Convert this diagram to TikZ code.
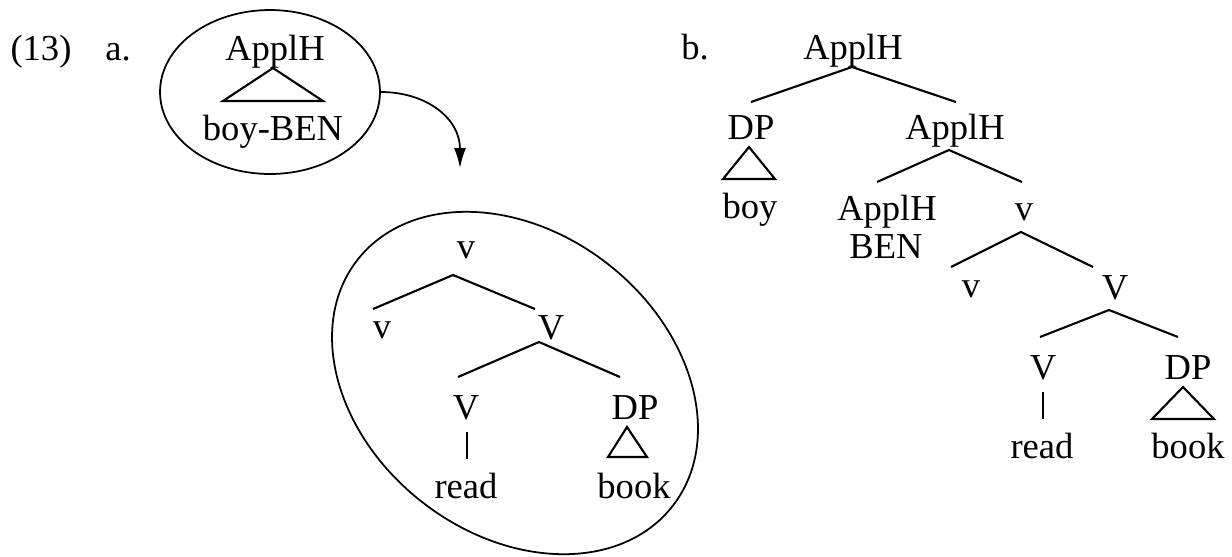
\documentclass[tikz,border=0pt]{standalone}
\usepackage{fontspec}
\setmainfont{Liberation Serif}
\usetikzlibrary{shapes.geometric,arrows.meta,calc}
\tikzset{
  lbl/.style={anchor=base, inner sep=0pt},
  br/.style={line width=1.2pt},
  ring/.style={draw, ellipse, line width=1pt, inner sep=0pt},
}
\begin{document}
\begin{tikzpicture}[x=0.02cm, y=-0.02cm, font=\fontsize{20.8pt}{25pt}\selectfont]
\useasboundingbox (0,0) rectangle (1232,556);
\node[lbl] (ex) at (41,60) {(13)};
\node[lbl] (a) at (118,60) {a.};
\node[lbl] (b) at (695,59) {b.};

\node[ring, minimum width=4.4cm, minimum height=3.28cm] (E1) at (270,92) {};
\node[lbl] (A0) at (275,60) {ApplH};
\node[lbl] (A0b) at (273,140) {boy-BEN};
\draw[br] ($(A0.base)+(-2,8)$) -- ++(-50,33) -- ++(100,0) -- cycle;
\coordinate (land) at (460,168);
\draw[line width=1pt, -{Latex[length=0.4cm, width=0.24cm]}] (E1.east) .. controls +(45,0) and +(0,-50) .. (land);

\node[ring, minimum width=8cm, minimum height=6.04cm, rotate=-38] (E2) at (515,383) {};
\node[lbl] (v1) at (466,258) {v};
\node[lbl] (v2) at (382,338) {v};
\node[lbl] (V1) at (551,339) {V};
\node[lbl] (V2) at (466,419) {V};
\node[lbl] (DP1) at (635,419) {DP};
\node[lbl] (rd1) at (466,498) {read};
\node[lbl] (bk1) at (634,498) {book};
\draw[br] ($(v2.base)+(-9,-29)$) -- ($(v1.base)+(-13,17)$) -- ($(V1.base)+(-16,-30)$);
\draw[br] ($(V2.base)+(-8,-42)$) -- ($(V1.base)+(-12,3)$) -- ($(DP1.base)+(-15,-42)$);
\draw[br] ($(V2.base)+(1,13)$) -- ($(rd1.base)+(1,-39)$);
\draw[br] ($(DP1.base)+(-8,8)$) -- ++(-19,30) -- ++(39,0) -- cycle;

\node[lbl] (B0) at (853,59) {ApplH};
\node[lbl] (DP2) at (751,139) {DP};
\node[lbl] (B1) at (955,139) {ApplH};
\node[lbl] (boy) at (750,218) {boy};
\node[lbl] (B2) at (887,220) {ApplH};
\node[lbl] (ben) at (886,258) {BEN};
\node[lbl] (v3) at (1024,220) {v};
\node[lbl] (v4) at (971,297) {v};
\node[lbl] (V3) at (1115,299) {V};
\node[lbl] (V4) at (1043,379) {V};
\node[lbl] (DP3) at (1188,379) {DP};
\node[lbl] (rd2) at (1042,458) {read};
\node[lbl] (bk2) at (1188,458) {book};
\draw[br] ($(DP2.base)+(0,-37)$) -- ($(B0.base)+(-1,8)$) -- ($(B1.base)+(1,-37)$);
\draw[br] ($(B2.base)+(-10,-38)$) -- ($(B1.base)+(-6,11)$) -- ($(v3.base)+(-2,-38)$);
\draw[br] ($(v4.base)+(-20,-30)$) -- ($(v3.base)+(-3,12)$) -- ($(V3.base)+(-22,-32)$);
\draw[br] ($(V4.base)+(-3,-42)$) -- ($(V3.base)+(-6,11)$) -- ($(DP3.base)+(-10,-42)$);
\draw[br] ($(V4.base)+(0,13)$) -- ($(rd2.base)+(1,-39)$);
\draw[br] ($(DP3.base)+(-5,8)$) -- ++(-31,32) -- ++(62,0) -- cycle;
\draw[br] ($(DP2.base)+(-2,8)$) -- ++(-26,32) -- ++(52,0) -- cycle;
\end{tikzpicture}
\end{document}
